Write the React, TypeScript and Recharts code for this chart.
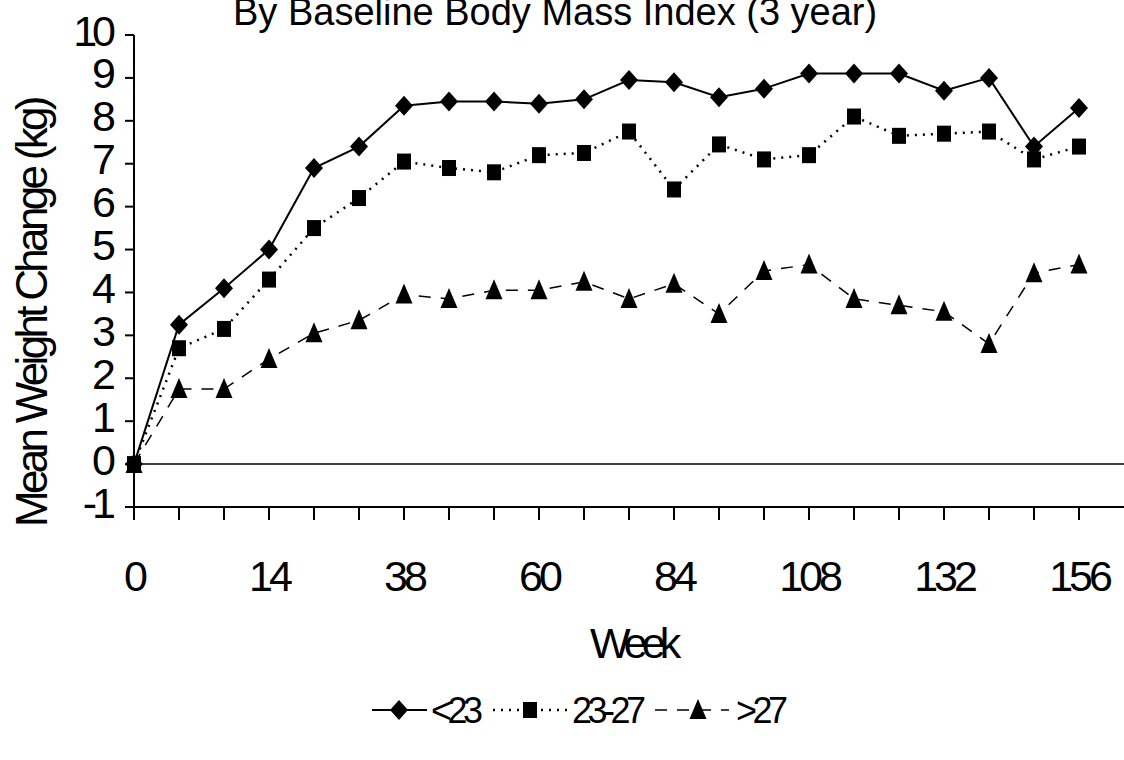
import { LineChart, Line, XAxis, YAxis, ReferenceLine } from "recharts";

const weeks = [0, 4, 8, 14, 20, 26, 38, 44, 52, 60, 68, 76, 84, 92, 100, 108, 116, 124, 132, 140, 148, 156];
const bmiUnder23 = [0, 3.25, 4.1, 5.0, 6.9, 7.4, 8.35, 8.45, 8.45, 8.4, 8.5, 8.95, 8.9, 8.55, 8.75, 9.1, 9.1, 9.1, 8.7, 9.0, 7.4, 8.3];
const bmi23to27 = [0, 2.7, 3.15, 4.3, 5.5, 6.2, 7.05, 6.9, 6.8, 7.2, 7.25, 7.75, 6.4, 7.45, 7.1, 7.2, 8.1, 7.65, 7.7, 7.75, 7.1, 7.4];
const bmiOver27 = [0, 1.75, 1.75, 2.45, 3.05, 3.35, 3.95, 3.85, 4.05, 4.05, 4.25, 3.85, 4.2, 3.5, 4.5, 4.65, 3.85, 3.7, 3.55, 2.8, 4.45, 4.65];
const yTicks = [-1, 0, 1, 2, 3, 4, 5, 6, 7, 8, 9, 10];
const seriesNames = ["<23", "23-27", ">27"];

const data = weeks.map((w, i) => ({
  week: w,
  under23: bmiUnder23[i],
  mid: bmi23to27[i],
  over27: bmiOver27[i],
}));

const FONT = "'Liberation Sans', Arial, sans-serif";

const Diamond = ({ cx, cy }: { cx?: number; cy?: number }) => {
  if (cx == null || cy == null) return null;
  return <polygon points={`${cx},${cy - 10} ${cx + 9},${cy} ${cx},${cy + 10} ${cx - 9},${cy}`} fill="#000" />;
};

const Square = ({ cx, cy }: { cx?: number; cy?: number }) => {
  if (cx == null || cy == null) return null;
  return <rect x={cx - 7} y={cy - 8} width={14} height={16} fill="#000" />;
};

const Triangle = ({ cx, cy }: { cx?: number; cy?: number }) => {
  if (cx == null || cy == null) return null;
  return <polygon points={`${cx},${cy - 11} ${cx + 8.5},${cy + 9} ${cx - 8.5},${cy + 9}`} fill="#000" />;
};

const YTick = ({ x, y, payload }: any) => (
  <text x={x} y={y + 10.5} textAnchor="end" fontFamily={FONT} fontSize={43} letterSpacing={-5} fill="#000">
    {payload.value}
  </text>
);

// only every third week gets a label, but every week keeps its tick mark
const XTick = ({ x, y, payload, index }: any) => {
  if (index % 3 !== 0) return null;
  return (
    <text x={x} y={y + 71} textAnchor="middle" fontFamily={FONT} fontSize={43} letterSpacing={-4} fill="#000">
      {payload.value}
    </text>
  );
};

function Overlay() {
  const legendText = { fontFamily: FONT, fontSize: 36, letterSpacing: -4.5, fill: "#000" };
  const ly = 710;
  return (
    <svg width={1124} height={760} style={{ position: "absolute", left: 0, top: 0, pointerEvents: "none" }}>
      <text x={233} y={25} fontFamily={FONT} fontSize={38} fill="#000">
        By Baseline Body Mass Index (3 year)
      </text>
      <text
        x={47}
        y={527}
        transform="rotate(-90 47 527)"
        fontFamily={FONT}
        fontSize={44}
        letterSpacing={-3.7}
        fill="#000"
      >
        Mean Weight Change (kg)
      </text>
      <text x={590} y={658} fontFamily={FONT} fontSize={43} letterSpacing={-6} fill="#000">
        Week
      </text>

      {/* legend */}
      <line x1={372} x2={427} y1={ly} y2={ly} stroke="#000" strokeWidth={2} />
      <Diamond cx={399} cy={ly} />
      <text x={431} y={ly + 13} {...legendText}>{seriesNames[0]}</text>

      <line x1={493} x2={567} y1={ly} y2={ly} stroke="#000" strokeWidth={2.5} strokeDasharray="2 6" />
      <Square cx={530} cy={ly} />
      <text x={572} y={ly + 13} {...legendText}>{seriesNames[1]}</text>

      <line x1={655} x2={729} y1={ly} y2={ly} stroke="#000" strokeWidth={1.5} strokeDasharray="12 10" />
      <Triangle cx={698} cy={ly} />
      <text x={736} y={ly + 13} {...legendText}>{seriesNames[2]}</text>
    </svg>
  );
}

export default function App() {
  return (
    <div style={{ position: "absolute", left: 0, top: 0, width: 1124, height: 760, background: "#fff" }}>
      <LineChart width={1124} height={760} data={data} margin={{ top: 35, right: 0, bottom: 0, left: 0 }}>
        <XAxis
          dataKey="week"
          type="category"
          height={253}
          interval={0}
          padding={{ left: 0, right: 45 }}
          axisLine={{ stroke: "#000", strokeWidth: 2 }}
          tickLine={{ stroke: "#000", strokeWidth: 2 }}
          tickSize={13}
          tickMargin={0}
          tick={<XTick />}
        />
        <YAxis
          type="number"
          domain={[-1, 10]}
          ticks={yTicks}
          interval={0}
          width={134}
          axisLine={{ stroke: "#000", strokeWidth: 2 }}
          tickLine={{ stroke: "#000", strokeWidth: 2 }}
          tickSize={9}
          tickMargin={14}
          tick={<YTick />}
        />
        <ReferenceLine y={0} stroke="#000" strokeWidth={1.5} />
        <Line
          dataKey="under23"
          name={seriesNames[0]}
          stroke="#000"
          strokeWidth={2}
          dot={<Diamond />}
          activeDot={false}
          isAnimationActive={false}
        />
        <Line
          dataKey="over27"
          name={seriesNames[2]}
          stroke="#000"
          strokeWidth={1.5}
          strokeDasharray="12 10"
          dot={<Triangle />}
          activeDot={false}
          isAnimationActive={false}
        />
        <Line
          dataKey="mid"
          name={seriesNames[1]}
          stroke="#000"
          strokeWidth={2.5}
          strokeDasharray="2 6"
          dot={<Square />}
          activeDot={false}
          isAnimationActive={false}
        />
      </LineChart>
      <Overlay />
    </div>
  );
}
